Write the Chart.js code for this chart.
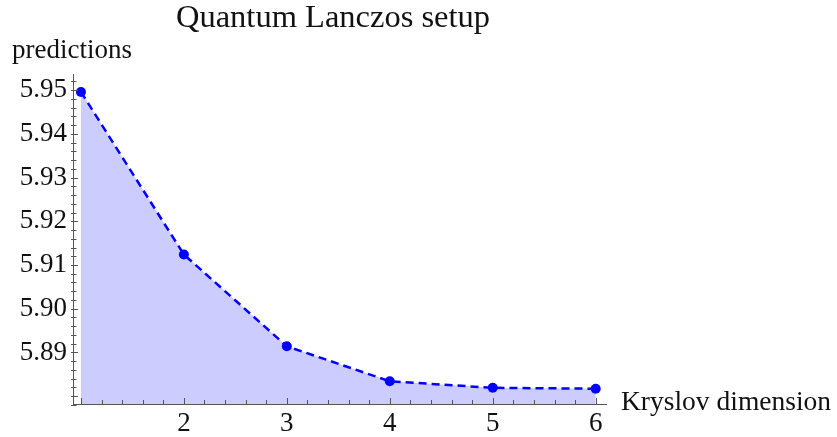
<!DOCTYPE html>
<html>
<head>
<meta charset="utf-8">
<script src="https://cdn.jsdelivr.net/npm/chart.js@4"></script>
<style>
    html, body { margin: 0; padding: 0; background: #fff; }
    #wrap { width: 837px; height: 437px; }
</style>
</head>
<body>
<div id="wrap"><canvas id="myChart" width="837" height="437"></canvas></div>
<script>
// подключение канваса
const canvas = document.getElementById('myChart')
const ctx = canvas.getContext('2d')

// данные графика
const dims = [1, 2, 3, 4, 5, 6]
const predictions = [5.9496, 5.9124, 5.8914, 5.8834, 5.8819, 5.8817]
const xTicks = [1, 2, 3, 4, 5, 6]
const yTicks = [5.89, 5.90, 5.91, 5.92, 5.93, 5.94, 5.95]

const serif = '"Liberation Serif", "Times New Roman", serif'
const axisColor = '#555'

// плагин: засечки внутрь графика (крупные и мелкие) и подписи
const extras = {
    id: 'extras',
    afterDraw(chart) {
        const c = chart.ctx
        const xs = chart.scales.x
        const ys = chart.scales.y
        const area = chart.chartArea
        c.save()
        c.strokeStyle = axisColor
        c.lineWidth = 1

        // засечки оси X
        for (let v = 1; v <= 6.001; v += 0.2) {
            const px = Math.round(xs.getPixelForValue(v)) + 0.5
            const major = Math.abs(v - Math.round(v)) < 0.001
            c.beginPath()
            c.moveTo(px, area.bottom)
            c.lineTo(px, area.bottom - (major ? 6 : 4))
            c.stroke()
        }

        // засечки оси Y
        for (let v = 5.878; v <= 5.9521; v += 0.002) {
            const py = Math.round(ys.getPixelForValue(v)) + 0.5
            const major = Math.abs(v * 100 - Math.round(v * 100)) < 0.01
            c.beginPath()
            c.moveTo(area.left - 2, py)
            c.lineTo(area.left + (major ? 5 : 3.5), py)
            c.stroke()
        }

        // заголовок и подписи осей
        c.fillStyle = '#111'
        c.textBaseline = 'alphabetic'
        c.font = '32.5px ' + serif
        c.textAlign = 'center'
        c.fillText('Quantum Lanczos setup', 333, 27)
        c.textAlign = 'left'
        c.font = '27px ' + serif
        c.fillText('predictions', 12, 58)
        c.font = '27.5px ' + serif
        c.fillText('Kryslov dimension', 621, 410)
        c.restore()
    }
}

const data = {
    datasets: [{
        label: 'predictions',
        data: dims.map((d, i) => ({ x: d, y: predictions[i] })),
        borderColor: 'rgb(0, 0, 255)',
        backgroundColor: 'rgba(204, 204, 255, 1)',
        borderWidth: 2.5,
        borderDash: [8, 5],
        pointRadius: 5,
        pointBackgroundColor: 'rgb(0, 0, 255)',
        pointBorderWidth: 0,
        fill: 'start',
        tension: 0
    }]
}

// создание графика
const myLineChart = new Chart(ctx, {
    type: 'line',
    data: data,
    plugins: [extras],
    options: {
        responsive: false,
        animation: false,
        layout: { padding: { left: 0, right: 231, top: 74, bottom: 0 } },
        plugins: {
            legend: { display: false },
            tooltip: { enabled: false }
        },
        scales: {
            x: {
                type: 'linear',
                min: 0.923,
                max: 6.1,
                afterBuildTicks: s => { s.ticks = xTicks.map(v => ({ value: v })) },
                afterFit: s => { s.height = 33 },
                grid: { display: false, drawTicks: false },
                border: { display: true, color: axisColor, width: 1 },
                ticks: {
                    padding: 4,
                    color: '#111',
                    font: { family: serif, size: 27 },
                    callback: v => (v === 1 ? '' : String(v))
                }
            },
            y: {
                type: 'linear',
                min: 5.8782,
                max: 5.9537,
                afterBuildTicks: s => { s.ticks = yTicks.map(v => ({ value: v })) },
                afterFit: s => { s.width = 73 },
                grid: { display: false, drawTicks: false },
                border: { display: true, color: axisColor, width: 1 },
                ticks: {
                    padding: 6,
                    color: '#111',
                    font: { family: serif, size: 27 },
                    callback: v => v.toFixed(2)
                }
            }
        }
    }
})
</script>
</body>
</html>
